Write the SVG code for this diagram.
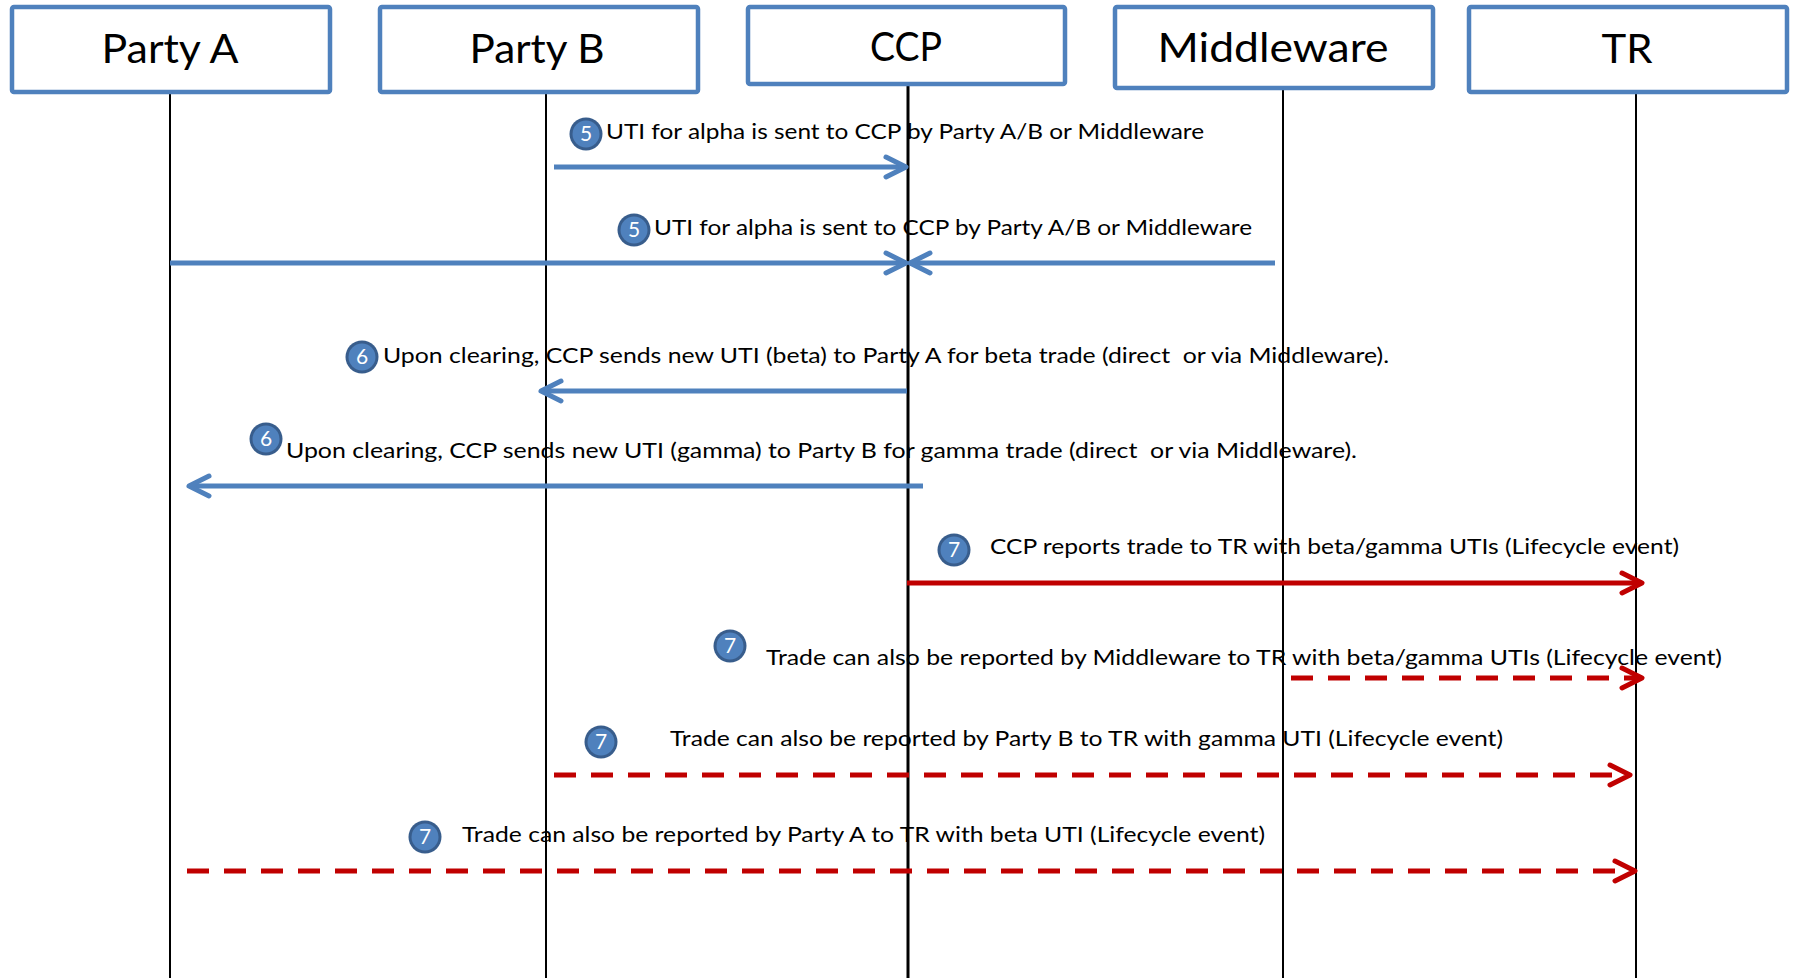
<svg xmlns="http://www.w3.org/2000/svg" width="1796" height="978" viewBox="0 0 1796 978">
<style>
.box{fill:#fff;stroke:#4f81bd;stroke-width:4.5}
.lbl{font-family:Lato,"Liberation Sans",sans-serif;font-size:40px;fill:#000;text-anchor:middle}
.life{stroke:#000;stroke-width:2}
.msg{font-family:Lato,"Liberation Sans",sans-serif;font-size:21px;fill:#000;white-space:pre}
.num{font-family:Lato,"Liberation Sans",sans-serif;font-size:21px;fill:#fff;text-anchor:middle}
.blue{stroke:#4f81bd;stroke-width:5;fill:none}
.red{stroke:#c00000;stroke-width:5;fill:none}
.dash{stroke-dasharray:22 15}
</style>
<defs>
<marker id="hb" markerUnits="userSpaceOnUse" viewBox="-30 -20 40 40" markerWidth="40" markerHeight="40" refX="0" refY="0" orient="auto" overflow="visible">
<path d="M-20,-10 L0,0 L-20,10" fill="none" stroke="#4f81bd" stroke-width="5" stroke-linecap="round" stroke-linejoin="round" stroke-dasharray="none"/>
</marker>
<marker id="hr" markerUnits="userSpaceOnUse" viewBox="-30 -20 40 40" markerWidth="40" markerHeight="40" refX="0" refY="0" orient="auto" overflow="visible">
<path d="M-20,-10 L0,0 L-20,10" fill="none" stroke="#c00000" stroke-width="5" stroke-linecap="round" stroke-linejoin="round" stroke-dasharray="none"/>
</marker>
<g id="badge"><circle r="16.5" fill="#385d8c"/><circle r="13.5" fill="#4f81bd"/></g>
</defs>
<rect width="1796" height="978" fill="#fff"/>

<g id="lifelines">
<line class="life" x1="170" y1="94" x2="170" y2="978"/>
<line class="life" x1="546" y1="94" x2="546" y2="978"/>
<line class="life" x1="908" y1="86" x2="908" y2="978" style="stroke-width:3"/>
<line class="life" x1="1283" y1="90" x2="1283" y2="978"/>
<line class="life" x1="1636" y1="94" x2="1636" y2="978"/>
</g>

<g id="partyA"><rect class="box" x="12" y="7" width="318" height="85" rx="2"/><text class="lbl" x="170" y="63" textLength="137" lengthAdjust="spacingAndGlyphs">Party A</text></g>
<g id="partyB"><rect class="box" x="380" y="7" width="318" height="85" rx="2"/><text class="lbl" x="537" y="63" textLength="135" lengthAdjust="spacingAndGlyphs">Party B</text></g>
<g id="ccp"><rect class="box" x="748" y="7" width="317" height="77" rx="2"/><text class="lbl" x="906" y="61" textLength="72" lengthAdjust="spacingAndGlyphs">CCP</text></g>
<g id="middleware"><rect class="box" x="1115" y="7" width="318" height="81" rx="2"/><text class="lbl" x="1273" y="62" textLength="231" lengthAdjust="spacingAndGlyphs">Middleware</text></g>
<g id="tr"><rect class="box" x="1469" y="7" width="318" height="85" rx="2"/><text class="lbl" x="1627" y="63" textLength="51" lengthAdjust="spacingAndGlyphs">TR</text></g>

<g id="connectors">
<line class="blue" x1="554" y1="167" x2="906" y2="167" marker-end="url(#hb)"/>
<line class="blue" x1="170" y1="263" x2="906" y2="263" marker-end="url(#hb)"/>
<line class="blue" x1="1275" y1="263" x2="910" y2="263" marker-end="url(#hb)"/>
<line class="blue" x1="907" y1="391" x2="541" y2="391" marker-end="url(#hb)"/>
<line class="blue" x1="923" y1="486" x2="189" y2="486" marker-end="url(#hb)"/>
<line class="red" x1="907" y1="583" x2="1642" y2="583" marker-end="url(#hr)"/>
<line class="red dash" x1="1291" y1="678" x2="1642" y2="678" marker-end="url(#hr)"/>
<line class="red dash" x1="554" y1="775" x2="1630" y2="775" marker-end="url(#hr)"/>
<line class="red dash" x1="187" y1="871" x2="1635" y2="871" marker-end="url(#hr)"/>
</g>

<g id="labels">
<g id="m1"><use href="#badge" x="586" y="134"/><text class="num" x="586" y="141">5</text>
<text class="msg" x="606" y="139" textLength="598" lengthAdjust="spacingAndGlyphs">UTI for alpha is sent to CCP by Party A/B or Middleware</text></g>
<g id="m2"><use href="#badge" x="634" y="230"/><text class="num" x="634" y="237">5</text>
<text class="msg" x="654" y="235" textLength="598" lengthAdjust="spacingAndGlyphs">UTI for alpha is sent to CCP by Party A/B or Middleware</text></g>
<g id="m3"><use href="#badge" x="362" y="357"/><text class="num" x="362" y="364">6</text>
<text class="msg" x="383" y="363" textLength="1006" lengthAdjust="spacingAndGlyphs" xml:space="preserve">Upon clearing, CCP sends new UTI (beta) to Party A for beta trade (direct  or via Middleware).</text></g>
<g id="m4"><use href="#badge" x="266" y="439"/><text class="num" x="266" y="446">6</text>
<text class="msg" x="286" y="458" textLength="1071" lengthAdjust="spacingAndGlyphs" xml:space="preserve">Upon clearing, CCP sends new UTI (gamma) to Party B for gamma trade (direct  or via Middleware).</text></g>
<g id="m5"><use href="#badge" x="954" y="550"/><text class="num" x="954" y="557">7</text>
<text class="msg" x="990" y="554" textLength="689" lengthAdjust="spacingAndGlyphs">CCP reports trade to TR with beta/gamma UTIs (Lifecycle event)</text></g>
<g id="m6"><use href="#badge" x="730" y="646"/><text class="num" x="730" y="653">7</text>
<text class="msg" x="766" y="665" textLength="956" lengthAdjust="spacingAndGlyphs">Trade can also be reported by Middleware to TR with beta/gamma UTIs (Lifecycle event)</text></g>
<g id="m7"><use href="#badge" x="601" y="742"/><text class="num" x="601" y="749">7</text>
<text class="msg" x="670" y="746" textLength="833" lengthAdjust="spacingAndGlyphs">Trade can also be reported by Party B to TR with gamma UTI (Lifecycle event)</text></g>
<g id="m8"><use href="#badge" x="425" y="837"/><text class="num" x="425" y="844">7</text>
<text class="msg" x="462" y="842" textLength="803" lengthAdjust="spacingAndGlyphs">Trade can also be reported by Party A to TR with beta UTI (Lifecycle event)</text></g>
</g>
</svg>
